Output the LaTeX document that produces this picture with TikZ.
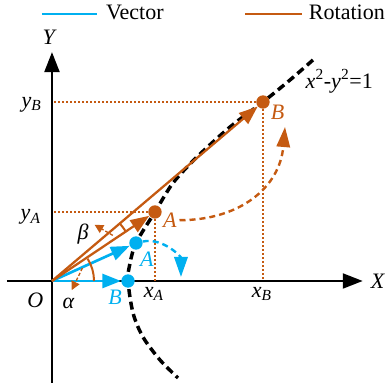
\documentclass[tikz,border=0pt]{standalone}
\usepackage{fontspec}
\setmainfont{Liberation Serif}
\usetikzlibrary{arrows.meta}

\definecolor{azulVector}{RGB}{0,176,240}
\definecolor{naranjaGiro}{RGB}{197,90,17}
\newcommand{\coordSub}[2]{\textit{#1}\textsubscript{\textit{#2}}}

\begin{document}
\begin{tikzpicture}[
    scale=2,
    % Estilos de texto (tipo Times)
    texto/.style={font=\fontsize{16.5}{18}\selectfont, inner sep=2pt},
    textoAzul/.style={texto, text=azulVector},
    textoNaranja/.style={texto, text=naranjaGiro},
    % Puntos sobre la hipérbola
    punto/.style={circle, inner sep=0pt, minimum size=10pt},
    puntoAzul/.style={punto, fill=azulVector},
    puntoNaranja/.style={punto, fill=naranjaGiro},
    % Ejes y vectores con puntas triangulares
    eje/.style={line width=2.2pt, -{Triangle[length=15pt, width=11pt]}},
    flechaVector/.style={azulVector, line width=2pt, -{Triangle[length=14pt, width=10.5pt]}},
    flechaGiro/.style={naranjaGiro, line width=1.7pt, -{Triangle[length=14pt, width=10.5pt]}},
    % Trazos discontinuos
    curvaHiperbola/.style={line width=2.6pt, dash pattern=on 6pt off 3.5pt},
    guia/.style={naranjaGiro, line width=0.8pt, dash pattern=on 1.5pt off 1.5pt},
    giroAzul/.style={azulVector, line width=1.8pt, dash pattern=on 4.5pt off 3pt, -{Triangle[length=15pt, width=10pt]}},
    giroNaranja/.style={naranjaGiro, line width=1.8pt, dash pattern=on 4.5pt off 3pt, -{Triangle[length=15pt, width=10pt]}},
    angulo/.style={naranjaGiro, line width=1.5pt},
    flechita/.style={naranjaGiro, line width=1pt, dash pattern=on 2.5pt off 1.5pt, -{Triangle[length=6.5pt, width=6.5pt]}},
    leyenda/.style={line width=2.2pt}
]

    \useasboundingbox (-0.684,-1.342) rectangle (4.421,3.697);

    % --- EJES COORDENADOS ---
    \coordinate (O)    at (0,0);
    \coordinate (xIni) at (-0.592,0);
    \coordinate (xFin) at (4.09,0);
    \coordinate (yIni) at (0,-1.36);
    \coordinate (yFin) at (0,3.013);
    \draw[eje] (xIni) -- (xFin);
    \draw[eje] (yIni) -- (yFin);
    \node[texto] (ejeX) at (4.29,0)     {\textit{X}};
    \node[texto] (ejeY) at (-0.03,3.21) {\textit{Y}};
    \node[texto] (origen) at (-0.22,-0.25) {\textit{O}};

    % --- HIPÉRBOLA x^2 - y^2 = 1 (rama derecha) ---
    \draw[curvaHiperbola] plot[smooth] coordinates {
        (3.434,2.908) (3.132,2.645) (2.776,2.355) (2.342,2.026) (1.908,1.632)
        (1.592,1.289) (1.355,0.908) (1.105,0.5) (1.022,0.211) (1.0,0)
        (1.066,-0.421) (1.197,-0.737) (1.421,-1.039) (1.658,-1.276)};
    \node[texto] (ecuacion) at (3.78,2.63) {\textit{x}\textsuperscript{2}-\textit{y}\textsuperscript{2}=1};

    % --- PUNTOS A y B (vector y rotación) ---
    \node[puntoAzul]    (Bazul) at (1.0,0)       {};
    \node[puntoAzul]    (Aazul) at (1.105,0.5)   {};
    \node[puntoNaranja] (Anar)  at (1.355,0.908) {};
    \node[puntoNaranja] (Bnar)  at (2.776,2.355) {};
    \node[textoAzul]    (etiqBazul) at (0.83,-0.22) {\textit{B}};
    \node[textoAzul]    (etiqAazul) at (1.25,0.29)  {\textit{A}};
    \node[textoNaranja] (etiqAnar)  at (1.55,0.80)  {\textit{A}};
    \node[textoNaranja] (etiqBnar)  at (2.97,2.22)  {\textit{B}};

    % Líneas de proyección sobre los ejes
    \coordinate (xA) at (1.355,0);
    \coordinate (yA) at (0,0.908);
    \coordinate (xB) at (2.776,0);
    \coordinate (yB) at (0,2.355);
    \draw[guia] (Anar) -- (yA);
    \draw[guia] (Anar) -- (xA);
    \draw[guia] (Bnar) -- (yB);
    \draw[guia] (Bnar) -- (xB);
    \node[texto] (etiqxA) at (1.34,-0.17) {\coordSub{x}{A}};
    \node[texto] (etiqxB) at (2.76,-0.17) {\coordSub{x}{B}};
    \node[texto] (etiqyA) at (-0.28,0.84) {\coordSub{y}{A}};
    \node[texto] (etiqyB) at (-0.27,2.32) {\coordSub{y}{B}};

    % --- VECTORES DESDE EL ORIGEN ---
    \draw[flechaVector] (O) -- (Bazul);
    \draw[flechaVector] (O) -- (Aazul);
    \draw[flechaGiro]   (O) -- (Anar);
    \draw[flechaGiro]   (O) -- (Bnar);

    % --- ÁNGULOS alpha y beta ---
    \draw[angulo] (O) ++(0:0.553) arc[start angle=0, end angle=32, radius=0.553];
    \draw[angulo] (O) ++(33.8:1.17) arc[start angle=33.8, end angle=40.3, radius=1.17];
    \coordinate (alfaIni) at (0.40,0.17);
    \coordinate (alfaFin) at (0.26,-0.12);
    \coordinate (betaIni) at (0.80,0.60);
    \coordinate (betaFin) at (0.56,0.74);
    \draw[flechita] (alfaIni) -- (alfaFin);
    \draw[flechita] (betaIni) -- (betaFin);
    \node[texto] (alfa) at (0.22,-0.29) {\textit{α}};
    \node[texto] (beta) at (0.41,0.62)  {\textit{β}};

    % --- GIROS (flechas curvas discontinuas) ---
    \coordinate (giroAzulFin) at (1.697,0.053);
    \coordinate (giroNarFin)  at (3.066,2.026);
    \draw[giroAzul] (Aazul) to[out=12, in=90] (giroAzulFin);
    \draw[giroNaranja] (etiqAnar.east) to[out=0, in=-95, looseness=1.1] (giroNarFin);

    % --- LEYENDA ---
    \coordinate (leyAzulIni) at (-0.132,3.513);
    \coordinate (leyAzulFin) at (0.592,3.513);
    \coordinate (leyNarIni)  at (2.54,3.513);
    \coordinate (leyNarFin)  at (3.29,3.513);
    \draw[leyenda, azulVector]  (leyAzulIni) -- (leyAzulFin);
    \draw[leyenda, naranjaGiro] (leyNarIni) -- (leyNarFin);
    \node[texto] (leyVector)   at (1.09,3.53) {Vector};
    \node[texto] (leyRotacion) at (3.88,3.53) {Rotation};

\end{tikzpicture}
\end{document}
